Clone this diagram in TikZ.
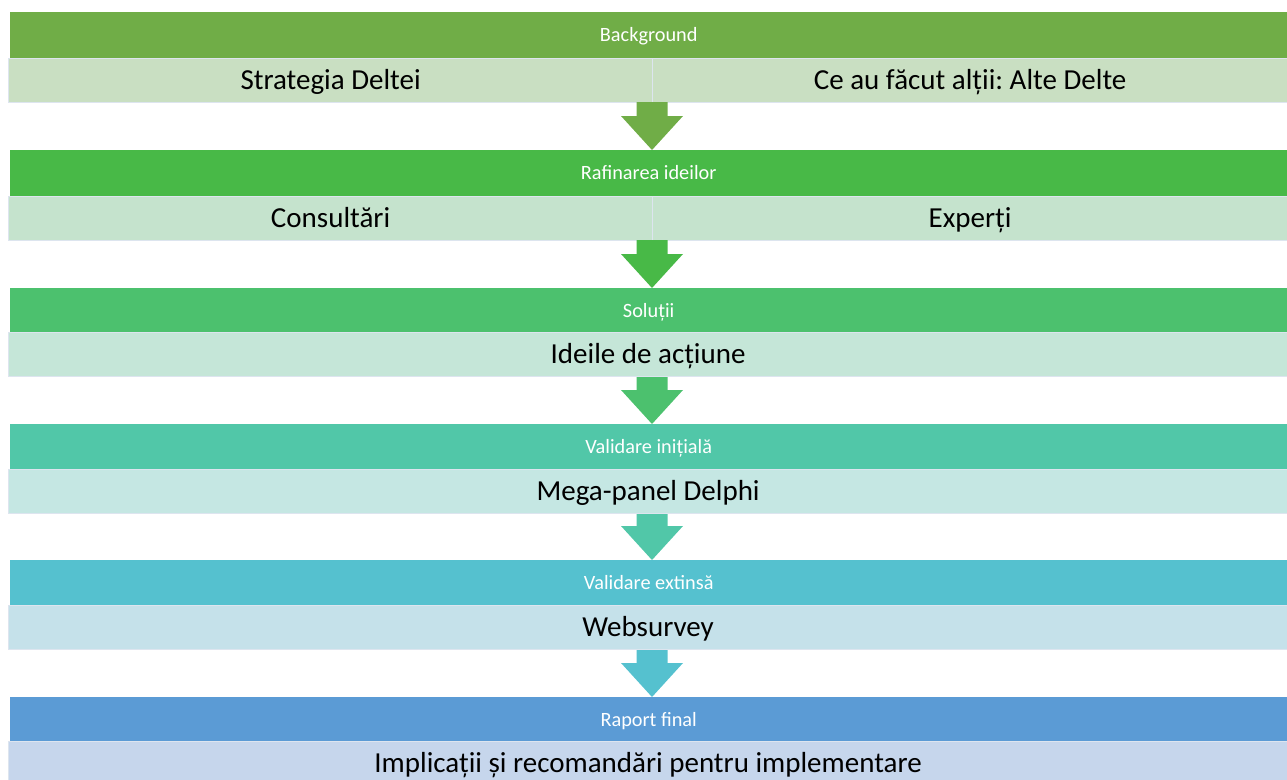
\documentclass[tikz,border=0pt]{standalone}
\usepackage{fontspec}
\setmainfont{Carlito}
\frenchspacing
\usetikzlibrary{calc}
\definecolor{hA}{HTML}{70AD47}\definecolor{sA}{HTML}{C9DFC2}
\definecolor{hB}{HTML}{48B947}\definecolor{sB}{HTML}{C5E3CD}
\definecolor{hC}{HTML}{4CC16E}\definecolor{sC}{HTML}{C5E6D8}
\definecolor{hD}{HTML}{51C7A8}\definecolor{sD}{HTML}{C5E7E3}
\definecolor{hE}{HTML}{55C1CF}\definecolor{sE}{HTML}{C5E1EA}
\definecolor{hF}{HTML}{5B9BD5}\definecolor{sF}{HTML}{C6D6EC}
\definecolor{edgec}{HTML}{DDE5EF}
\tikzset{
  x=1pt,y=-1pt,
  hdr/.style={anchor=north west,inner sep=0pt,minimum width=1277pt,minimum height=46pt,
    text height=17pt,text depth=4.1pt,
    text=white,font=\fontsize{20.3}{24}\selectfont},
  subbase/.style={anchor=north west,inner sep=0pt,minimum height=44pt,
    text height=24pt,text depth=5.3pt,
    draw=edgec,line width=1.2pt,font=\fontsize{29}{34}\selectfont},
  subfull/.style={subbase,minimum width=1279pt},
  subhalf/.style={subbase,minimum width=644pt},
  subhalfr/.style={subbase,minimum width=635pt},
}
\newcommand\flowarrow[3]{% color, from node, to node
  \fill[#1] let \p1=(#2), \p2=(#3) in
    (652-15.5,\y1) -- (652+15.5,\y1) -- (652+15.5,\y2+34) -- (652+31,\y2+34)
    -- (652,\y2) -- (652-31,\y2+34) -- (652-15.5,\y2+34) -- cycle;}
\begin{document}
\begin{tikzpicture}
\useasboundingbox (0,0) rectangle (1287,779);
% row 1
\node[hdr,fill=hA] (h1) at (10,12) {Background};
\node[subhalf,fill=sA] (s1a) at (8,58) {Strategia Deltei};
\node[subhalfr,fill=sA] (s1b) at (652,58) {Ce au făcut alții: Alte Delte};
\coordinate (b1) at (652,102);
% row 2
\node[hdr,fill=hB] (h2) at (10,150) {Rafinarea ideilor};
\node[subhalf,fill=sB] (s2a) at (8,196) {Consultări};
\node[subhalfr,fill=sB] (s2b) at (652,196) {Experți};
\coordinate (b2) at (652,240);
% row 3
\node[hdr,fill=hC] (h3) at (10,288) {Soluții};
\node[subfull,fill=sC] (s3) at (8,332) {Ideile de acțiune};
% row 4
\node[hdr,fill=hD] (h4) at (10,424) {Validare inițială};
\node[subfull,fill=sD] (s4) at (8,469) {Mega-panel Delphi};
% row 5
\node[hdr,fill=hE] (h5) at (10,560) {Validare extinsă};
\node[subfull,fill=sE] (s5) at (8,605) {Websurvey};
% row 6
\node[hdr,fill=hF] (h6) at (10,697) {Raport final};
\node[subfull,fill=sF] (s6) at (8,741) {Implicații și recomandări pentru implementare};
% arrows
\flowarrow{hA}{b1}{h2.north}
\flowarrow{hB}{b2}{h3.north}
\flowarrow{hC}{s3.south}{h4.north}
\flowarrow{hD}{s4.south}{h5.north}
\flowarrow{hE}{s5.south}{h6.north}
\end{tikzpicture}
\end{document}
